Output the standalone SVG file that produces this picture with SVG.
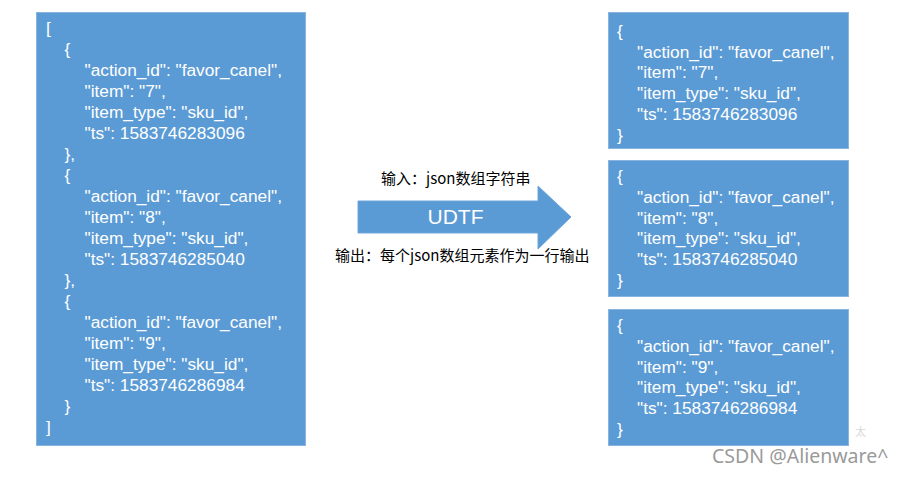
<svg xmlns="http://www.w3.org/2000/svg" width="901" height="478" viewBox="0 0 901 478">
<style>
.box{fill:#5B9BD5;stroke:#8AB4E0;stroke-width:1}
.code{font-family:"Liberation Sans",Arial,sans-serif;font-size:17.3px;fill:#FFFFFF}
.lbl{font-family:"Noto Sans CJK SC","Liberation Sans",sans-serif;font-size:15px;fill:#000000}
.arrow{fill:#5B9BD5;stroke:#6FA6DB;stroke-width:1}
.udtf{font-family:"Liberation Sans",Arial,sans-serif;font-size:21px;fill:#FFFFFF;text-anchor:middle}
.wm{font-family:"Noto Sans","Open Sans",sans-serif;font-size:19.5px;fill:#9A9A9A}
</style>
<rect width="901" height="478" fill="#FFFFFF"/>
<g id="input-array">
<rect class="box" x="36.5" y="12.5" width="269" height="433"/>
<text class="code">
<tspan x="46" y="34.3">[</tspan>
<tspan x="64.5" y="55.3">{</tspan>
<tspan x="84.5" y="76.3">"action_id": "favor_canel",</tspan>
<tspan x="84.5" y="97.3">"item": "7",</tspan>
<tspan x="84.5" y="118.3">"item_type": "sku_id",</tspan>
<tspan x="84.5" y="139.3">"ts": 1583746283096</tspan>
<tspan x="64.5" y="160.3">},</tspan>
<tspan x="64.5" y="181.3">{</tspan>
<tspan x="84.5" y="202.3">"action_id": "favor_canel",</tspan>
<tspan x="84.5" y="223.3">"item": "8",</tspan>
<tspan x="84.5" y="244.3">"item_type": "sku_id",</tspan>
<tspan x="84.5" y="265.3">"ts": 1583746285040</tspan>
<tspan x="64.5" y="286.3">},</tspan>
<tspan x="64.5" y="307.3">{</tspan>
<tspan x="84.5" y="328.3">"action_id": "favor_canel",</tspan>
<tspan x="84.5" y="349.3">"item": "9",</tspan>
<tspan x="84.5" y="370.3">"item_type": "sku_id",</tspan>
<tspan x="84.5" y="391.3">"ts": 1583746286984</tspan>
<tspan x="64.5" y="412.3">}</tspan>
<tspan x="46" y="433.3">]</tspan>
</text>
</g>
<g id="output-1">
<rect class="box" x="608.5" y="12.5" width="240" height="136"/>
<text class="code">
<tspan x="617" y="36.7">{</tspan>
<tspan x="637" y="57.5">"action_id": "favor_canel",</tspan>
<tspan x="637" y="78.3">"item": "7",</tspan>
<tspan x="637" y="99.1">"item_type": "sku_id",</tspan>
<tspan x="637" y="119.9">"ts": 1583746283096</tspan>
<tspan x="617" y="140.7">}</tspan>
</text>
</g>
<g id="output-2">
<rect class="box" x="608.5" y="160.5" width="240" height="136"/>
<text class="code">
<tspan x="617" y="182">{</tspan>
<tspan x="637" y="202.8">"action_id": "favor_canel",</tspan>
<tspan x="637" y="223.6">"item": "8",</tspan>
<tspan x="637" y="244.4">"item_type": "sku_id",</tspan>
<tspan x="637" y="265.2">"ts": 1583746285040</tspan>
<tspan x="617" y="286">}</tspan>
</text>
</g>
<g id="output-3">
<rect class="box" x="608.5" y="309.5" width="240" height="136"/>
<text class="code">
<tspan x="617" y="331">{</tspan>
<tspan x="637" y="351.8">"action_id": "favor_canel",</tspan>
<tspan x="637" y="372.6">"item": "9",</tspan>
<tspan x="637" y="393.4">"item_type": "sku_id",</tspan>
<tspan x="637" y="414.2">"ts": 1583746286984</tspan>
<tspan x="617" y="435">}</tspan>
</text>
</g>
<g id="connectors">
<polygon class="arrow" points="358,201 538,201 538,186 571,217 538,249 538,233 358,233"/>
<text class="udtf" x="455.5" y="224">UDTF</text>
<text class="lbl" x="381" y="184">输入：json数组字符串</text>
<text class="lbl" x="335" y="261">输出：每个json数组元素作为一行输出</text>
</g>
<g id="watermark">
<text x="855" y="436" font-family="'Noto Sans CJK SC',sans-serif" font-size="11px" fill="#D8D8D8">太</text>
<text class="wm" x="712" y="463">CSDN @Alienware^</text>
</g>
</svg>
